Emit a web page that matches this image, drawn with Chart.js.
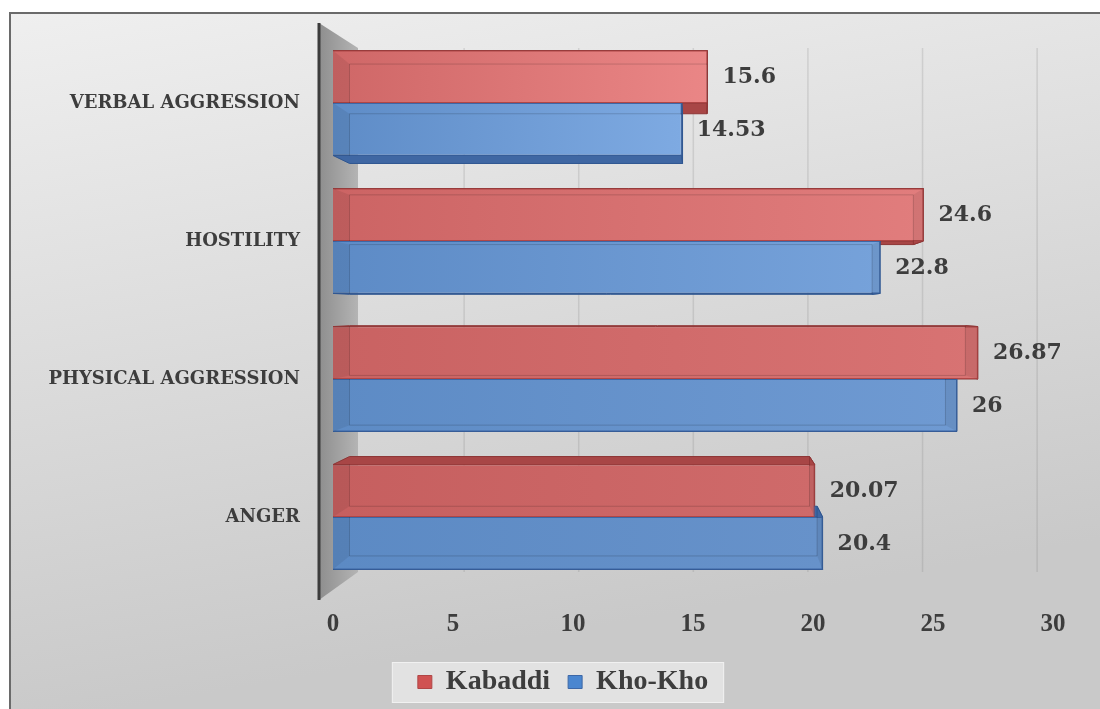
<!DOCTYPE html>
<html><head><meta charset="utf-8">
<script src="https://cdn.jsdelivr.net/npm/chart.js@4/dist/chart.umd.min.js"></script>
<style>html,body{margin:0;padding:0;background:#fff}canvas{display:block}</style>
</head><body>
<canvas id="c" width="1100" height="709"></canvas>
<script>
const categories = ['VERBAL AGGRESSION', 'HOSTILITY', 'PHYSICAL AGGRESSION', 'ANGER'];
const kabaddi = [15.6, 24.6, 26.87, 20.07];
const khoKho = [14.53, 22.8, 26, 20.4];
const seriesNames = ['Kabaddi', 'Kho-Kho'];
const xTicks = [0, 5, 10, 15, 20, 25, 30];

const TXT = '#3d3d3d';
const KX = 0.045, KY = 0.052;

function mix(a, b, t) {
  const pa = [1,3,5].map(i => parseInt(a.substr(i,2),16));
  const pb = [1,3,5].map(i => parseInt(b.substr(i,2),16));
  return 'rgb(' + pa.map((v,i) => Math.round(v + (pb[i]-v)*t)).join(',') + ')';
}
function barGrad(c, l0, r0, l1, r1) {
  const ch = c.chart, a = ch.chartArea, xs = ch.scales.x;
  const n = categories.length;
  const t = c.dataIndex !== undefined ? c.dataIndex / (n - 1) : 0;
  const cl = mix(l0, l1, t), cr = mix(r0, r1, t);
  if (!a || !xs || c.type !== 'data') return cl;
  const end = xs.getPixelForValue(c.raw);
  const g = ch.ctx.createLinearGradient(a.left, 0, Math.max(end, a.left + 1), 0);
  g.addColorStop(0, cl); g.addColorStop(1, cr);
  return g;
}

function vanish(chart) {
  const a = chart.chartArea;
  return { vx: a.left + (a.right - a.left) * 0.51, vy: (a.top + a.bottom) / 2 };
}
function barGeom(el, V) {
  const p = el.getProps(['x', 'y', 'base', 'height'], true);
  const L = Math.min(p.x, p.base), R = Math.max(p.x, p.base);
  const T = p.y - p.height / 2, B = p.y + p.height / 2;
  const bk = (x, y) => [x + (V.vx - x) * KX, y + (V.vy - y) * KY];
  return {
    L, R, T, B, y: p.y,
    F: { tl: [L, T], tr: [R, T], br: [R, B], bl: [L, B] },
    K: { tl: bk(L, T), tr: bk(R, T), br: bk(R, B), bl: bk(L, B) }
  };
}
function quad(ctx, pts) {
  ctx.beginPath(); ctx.moveTo(pts[0][0], pts[0][1]);
  for (let i = 1; i < pts.length; i++) ctx.lineTo(pts[i][0], pts[i][1]);
  ctx.closePath();
}
function noPad(s) { s.paddingTop = 0; s.paddingBottom = 0; }

const bgPlugin = {
  id: 'bg',
  beforeDraw(chart) {
    const { ctx, width: W, height: H } = chart;
    ctx.save();
    ctx.fillStyle = '#ffffff'; ctx.fillRect(0, 0, W, H);
    const g = ctx.createLinearGradient(0, 14, 120, H);
    g.addColorStop(0, '#efefef'); g.addColorStop(1, '#c9c9c9');
    ctx.fillStyle = g; ctx.fillRect(11, 14, W - 11, H - 14);
    ctx.strokeStyle = '#6a6a6a'; ctx.lineWidth = 2;
    ctx.beginPath(); ctx.moveTo(10, H); ctx.lineTo(10, 13); ctx.lineTo(W, 13); ctx.stroke();
    // legend frame
    const lg = chart.legend;
    if (lg && lg.legendHitBoxes && lg.legendHitBoxes.length) {
      const hb = lg.legendHitBoxes;
      const l = Math.min(...hb.map(h => h.left)) - 26;
      const r = Math.max(...hb.map(h => h.left + h.width)) + 16;
      const cy = hb[0].top + hb[0].height / 2;
      ctx.fillStyle = 'rgba(245,245,245,0.55)';
      ctx.fillRect(l, cy - 20, r - l, 41);
      ctx.strokeStyle = 'rgba(255,255,255,0.5)'; ctx.lineWidth = 1;
      ctx.strokeRect(l + 0.5, cy - 19.5, r - l - 1, 40);
    }
    ctx.restore();
  }
};

const wallPlugin = {
  id: 'wall',
  beforeDatasetsDraw(chart) {
    const { ctx, chartArea: a } = chart;
    const V = vanish(chart);
    const xs = chart.scales.x;
    ctx.save();
    // side wall
    const wf = a.left - 14, wb = a.left + 25;
    const g = ctx.createLinearGradient(wf, 0, wb, 0);
    g.addColorStop(0, '#8e8e8e'); g.addColorStop(1, '#b4b4b4');
    ctx.fillStyle = g;
    quad(ctx, [[wf, a.top - 11], [wb, a.top + 14], [wb, a.bottom - 14], [wf, a.bottom + 14]]);
    ctx.fill();
    ctx.strokeStyle = '#3c3c3c'; ctx.lineWidth = 3;
    ctx.beginPath(); ctx.moveTo(wf, a.top - 11); ctx.lineTo(wf, a.bottom + 14); ctx.stroke();
    // back-plane gridlines
    ctx.strokeStyle = 'rgba(120,120,120,0.2)'; ctx.lineWidth = 1.5;
    xs.ticks.forEach((t, i) => {
      if (i === 0) return;
      const px = xs.getPixelForTick(i);
      const bx = px + (V.vx - px) * KX;
      ctx.beginPath(); ctx.moveTo(bx, a.top + 14); ctx.lineTo(bx, a.bottom - 14); ctx.stroke();
    });
    // depth faces
    const depthCols = [['#a84646', '#8e3636'], ['#3f67a3', '#2f5690']];
    chart.data.datasets.forEach((ds, di) => {
      const meta = chart.getDatasetMeta(di);
      meta.data.forEach(el => {
        const G = barGeom(el, V);
        ctx.fillStyle = depthCols[di][0]; ctx.strokeStyle = depthCols[di][1]; ctx.lineWidth = 1;
        quad(ctx, [G.F.tl, G.F.tr, G.K.tr, G.K.tl]); ctx.fill(); ctx.stroke();
        quad(ctx, [G.F.bl, G.F.br, G.K.br, G.K.bl]); ctx.fill(); ctx.stroke();
        quad(ctx, [G.F.tr, G.F.br, G.K.br, G.K.tr]); ctx.fill(); ctx.stroke();
      });
    });
    ctx.restore();
  },
  afterDatasetsDraw(chart) {
    const { ctx } = chart;
    const V = vanish(chart);
    ctx.save();
    chart.data.datasets.forEach((ds, di) => {
      const meta = chart.getDatasetMeta(di);
      meta.data.forEach((el, i) => {
        const G = barGeom(el, V);
        ctx.save();
        ctx.beginPath(); ctx.rect(G.L, G.T, G.R - G.L, G.B - G.T); ctx.clip();
        ctx.fillStyle = 'rgba(0,0,0,0.07)';
        quad(ctx, [G.F.tl, G.K.tl, G.K.bl, G.F.bl]); ctx.fill();
        quad(ctx, [G.F.tr, G.K.tr, G.K.br, G.F.br]); ctx.fill();
        ctx.strokeStyle = 'rgba(0,0,0,0.16)'; ctx.lineWidth = 1;
        quad(ctx, [G.K.tl, G.K.tr, G.K.br, G.K.bl]); ctx.stroke();
        ctx.restore();
        // value label
        ctx.fillStyle = TXT;
        ctx.font = 'bold 22px "DejaVu Serif"';
        ctx.textAlign = 'left'; ctx.textBaseline = 'middle';
        ctx.fillText(String(ds.data[i]), G.R + 15, G.y + 1);
      });
    });
    ctx.restore();
  }
};

new Chart(document.getElementById('c'), {
  type: 'bar',
  data: {
    labels: categories,
    datasets: [
      {
        label: seriesNames[0], data: kabaddi,
        backgroundColor: c => barGrad(c, '#cf6767', '#ea8686', '#c65f5f', '#cf6a6a'),
        borderColor: '#b04646', borderWidth: 1, legendColor: '#d05252',
        barPercentage: 1, categoryPercentage: 0.76
      },
      {
        label: seriesNames[1], data: khoKho,
        backgroundColor: c => barGrad(c, '#5e8cc7', '#7eaae2', '#5c8ac4', '#6792ca'),
        borderColor: '#3d67a6', borderWidth: 1, legendColor: '#4a86d0',
        barPercentage: 1, categoryPercentage: 0.76
      }
    ]
  },
  options: {
    indexAxis: 'y',
    responsive: false,
    animation: false,
    devicePixelRatio: 1,
    layout: { padding: { top: 34, right: 0, bottom: 3, left: 26 } },
    scales: {
      x: {
        min: 0, max: 30,
        afterBuildTicks: s => { s.ticks = xTicks.map(v => ({ value: v })); },
        afterFit: s => { s.height = 64; },
        grid: { display: false, drawTicks: false },
        border: { display: false },
        ticks: { padding: 24, color: TXT, font: { family: '"Liberation Serif"', size: 25, weight: 'bold' } }
      },
      y: {
        afterFit: s => { s.width = 307; noPad(s); },
        grid: { display: false, drawTicks: false },
        border: { display: false },
        ticks: { padding: 33, color: TXT, font: { family: '"DejaVu Serif"', size: 18, weight: 'bold' } }
      },
      yRight: {
        type: 'linear', axis: 'y', position: 'right',
        afterFit: s => { s.width = 47; noPad(s); },
        grid: { display: false, drawTicks: false },
        border: { display: false },
        ticks: { display: false }
      }
    },
    plugins: {
      legend: {
        position: 'bottom',
        labels: {
          boxWidth: 14, boxHeight: 13, padding: 18,
          color: TXT,
          font: { family: '"Liberation Serif"', size: 28, weight: 'bold' },
          generateLabels: chart => chart.data.datasets.map((ds, i) => ({
            text: ds.label, fillStyle: ds.legendColor, strokeStyle: ds.borderColor,
            lineWidth: 1, hidden: false, datasetIndex: i, fontColor: TXT
          }))
        }
      },
      tooltip: { enabled: false }
    }
  },
  plugins: [bgPlugin, wallPlugin]
});
</script>
</body></html>
